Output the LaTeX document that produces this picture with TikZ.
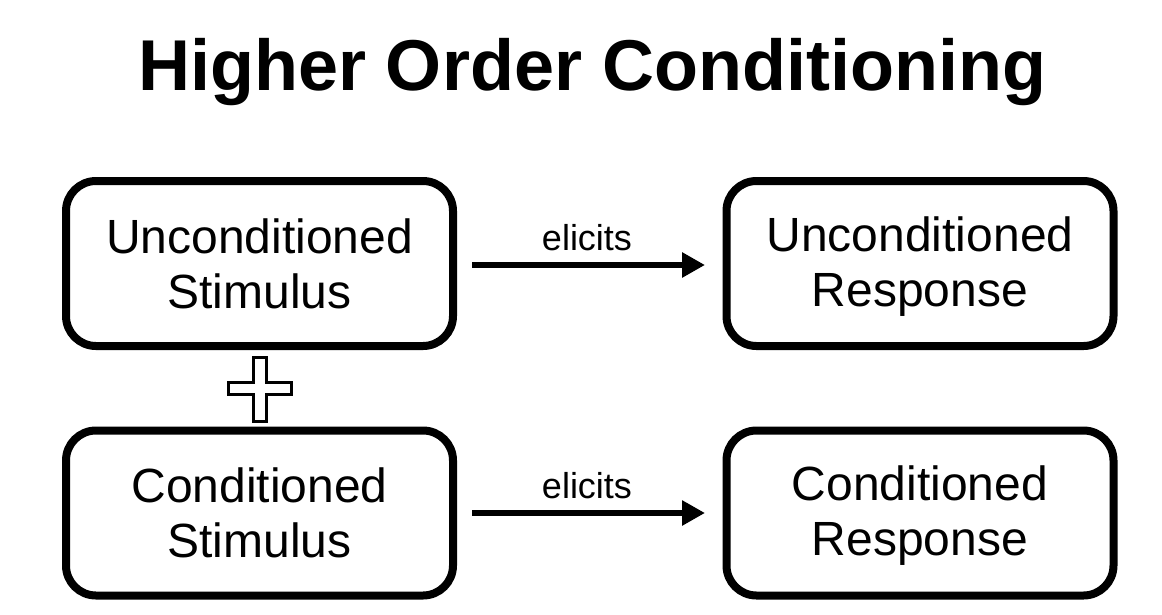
\documentclass[tikz,border=0pt]{standalone}
\usepackage{fontspec}
\setmainfont{Liberation Sans}
\usetikzlibrary{arrows.meta}
\newcommand\mystrut{\rule[-6pt]{0pt}{46pt}}
\begin{document}
\begin{tikzpicture}[x=1pt,y=-1pt,
  box/.style={draw=black,line width=8pt,rounded corners=30pt,minimum width=387pt,minimum height=165pt,align=center,inner sep=0pt,font=\fontsize{48}{55}\selectfont},
  lbl/.style={anchor=base,inner sep=0pt,font=\fontsize{36}{40}\selectfont},
  conn/.style={line width=6pt,-{Triangle[length=23pt,width=24pt]}}]
\useasboundingbox (0,0) rectangle (1162,614);
\node[anchor=base,inner sep=0pt,font=\fontsize{72}{80}\bfseries\selectfont] (title) at (592,90) {Higher Order Conditioning};
\node[box] (us) at (259.5,263.5) {\mystrut Unconditioned\\\mystrut Stimulus};
\node[box] (ur) at (920,263.5) {\mystrut Unconditioned\\\mystrut Response};
\node[box] (cs) at (259.5,513) {\mystrut Conditioned\\\mystrut Stimulus};
\node[box] (cr) at (920,513) {\mystrut Conditioned\\\mystrut Response};
\coordinate (a1s) at (472,265);
\coordinate (a1e) at (705,265);
\coordinate (a2s) at (472,513);
\coordinate (a2e) at (705,513);
\draw[conn] (a1s) -- (a1e);
\draw[conn] (a2s) -- (a2e);
\node[lbl] (l1) at (587,250) {elicits};
\node[lbl] (l2) at (587,498) {elicits};
\draw[line width=3pt,fill=white] (253,357) -- (266,357) -- (266,382) -- (291,382) -- (291,394) -- (266,394) -- (266,421) -- (253,421) -- (253,394) -- (228,394) -- (228,382) -- (253,382) -- cycle;
\end{tikzpicture}
\end{document}
